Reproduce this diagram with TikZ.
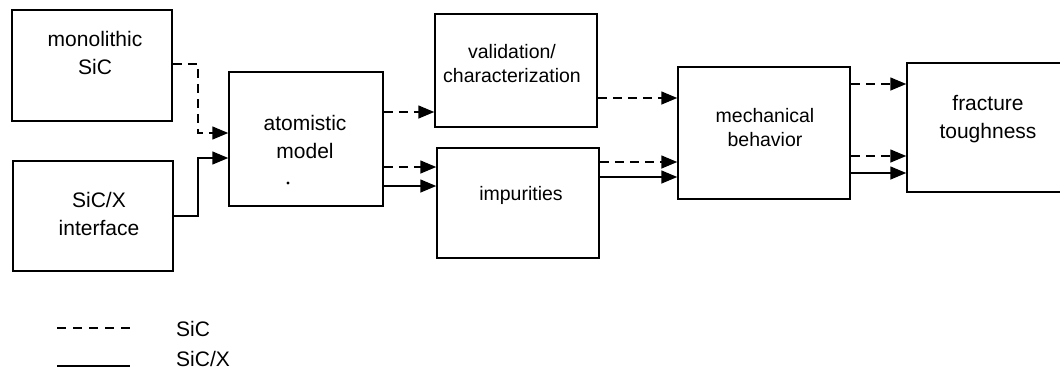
\documentclass[tikz,border=0pt]{standalone}
\usepackage{fontspec}
\setmainfont{Liberation Sans}
\usetikzlibrary{arrows.meta}
\begin{document}
\begin{tikzpicture}[x=1pt,y=-1pt,
  box/.style={draw,line width=1.5pt,rectangle,inner sep=0pt},
  big/.style={align=center,font=\fontsize{21}{28}\selectfont,inner sep=0pt},
  small/.style={align=center,font=\fontsize{19.5}{24}\selectfont,inner sep=0pt},
  con/.style={line width=1.5pt,-{Triangle[length=16pt,width=13pt]}},
  sic/.style={con,dash pattern=on 9pt off 6pt},
  sicx/.style={con}]
\useasboundingbox (0,0) rectangle (1060,370);
% boxes
\node[box,minimum width=160pt,minimum height=111pt] (mono) at (92,65.5) {};
\node[box,minimum width=160pt,minimum height=110pt] (sicx) at (93,216) {};
\node[box,minimum width=154pt,minimum height=134pt] (atom) at (306,139) {};
\node[box,minimum width=162pt,minimum height=113pt] (valid) at (516,70.5) {};
\node[box,minimum width=162pt,minimum height=110pt] (imp) at (518,203) {};
\node[box,minimum width=172pt,minimum height=132pt] (mech) at (764,133) {};
\node[box,minimum width=170pt,minimum height=129pt] (frac) at (992,127.5) {};
% texts
\node[big] (tmono) at (95,53) {monolithic\\SiC};
\node[big] (tsicx) at (99,214) {SiC/X\\interface};
\node[big] (tatom) at (305,137) {atomistic\\model};
\node[small] (tvalid) at (512,64) {validation/\\characterization};
\node[small] (timp) at (521,195) {impurities};
\node[small] (tmech) at (765,127.5) {mechanical\\behavior};
\node[big] (tfrac) at (988,119) {fracture\\toughness};
\fill (288,183) circle (1.6pt);
% connectors
\draw[sic] (mono.east |- 0,64) -| (198,133) -- (atom.west |- 0,133);
\draw[sicx] (sicx.east |- 0,216) -| (198,158) -- (atom.west |- 0,158);
\draw[sic] (atom.east |- 0,112) -- (valid.west |- 0,112);
\draw[sic] (atom.east |- 0,167) -- (imp.west |- 0,167);
\draw[sicx] (atom.east |- 0,186) -- (imp.west |- 0,186);
\draw[sic] (valid.east |- 0,98) -- (mech.west |- 0,98);
\draw[sic] (imp.east |- 0,162) -- (mech.west |- 0,162);
\draw[sicx] (imp.east |- 0,177) -- (mech.west |- 0,177);
\draw[sic] (mech.east |- 0,84) -- (frac.west |- 0,84);
\draw[sic] (mech.east |- 0,156) -- (frac.west |- 0,156);
\draw[sicx] (mech.east |- 0,173) -- (frac.west |- 0,173);
% legend
\coordinate (l1a) at (57,328); \coordinate (l1b) at (130,328);
\coordinate (l2a) at (57,366); \coordinate (l2b) at (130,366);
\draw[line width=1.5pt,dash pattern=on 9pt off 7pt] (l1a) -- (l1b);
\draw[line width=1.5pt] (l2a) -- (l2b);
\node[big,anchor=west] (lsic) at (176,329) {SiC};
\node[big,anchor=west] (lsicx) at (176,359) {SiC/X};
\end{tikzpicture}
\end{document}
